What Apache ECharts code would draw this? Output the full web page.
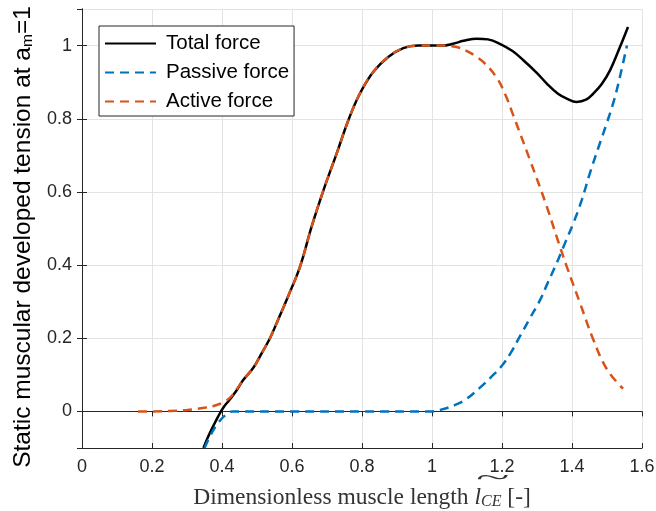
<!DOCTYPE html>
<html>
<head>
<meta charset="utf-8">
<script src="https://cdn.jsdelivr.net/npm/echarts@6/dist/echarts.min.js"></script>
<style>
  html, body { margin: 0; padding: 0; background: #fff; }
  #chart { width: 656px; height: 511px; }
</style>
</head>
<body>
<div id="chart"></div>
<script>
// Values: [length, tension]
const totalForce = [
  [0.347, -0.1], [0.36, -0.07], [0.375, -0.04], [0.39, -0.012], [0.405, 0.012],
  [0.42, 0.03], [0.44, 0.055], [0.46, 0.085], [0.49, 0.12], [0.514, 0.16], [0.537, 0.2],
  [0.56, 0.25], [0.589, 0.315], [0.623, 0.396], [0.656, 0.505], [0.69, 0.605],
  [0.728, 0.706], [0.761, 0.796], [0.794, 0.869], [0.832, 0.928], [0.875, 0.969],
  [0.918, 0.993], [0.96, 1.0], [1.0, 1.0], [1.03, 1.0], [1.06, 1.005],
  [1.09, 1.013], [1.128, 1.019], [1.16, 1.017], [1.194, 1.005], [1.23, 0.985],
  [1.261, 0.96], [1.3, 0.925], [1.328, 0.896], [1.36, 0.868], [1.385, 0.855],
  [1.413, 0.846], [1.44, 0.852], [1.461, 0.869], [1.485, 0.895], [1.509, 0.933],
  [1.537, 0.996], [1.56, 1.051]
]
const passiveForce = [
  [0.35, -0.1], [0.37, -0.06], [0.39, -0.03], [0.41, -0.01], [0.43, 0],
  [0.6, 0], [0.8, 0], [1.0, 0], [1.023, 0.004], [1.07, 0.019], [1.1, 0.035],
  [1.137, 0.065], [1.17, 0.095], [1.199, 0.124], [1.225, 0.16], [1.251, 0.205],
  [1.28, 0.255], [1.309, 0.305], [1.33, 0.35], [1.356, 0.405], [1.38, 0.46],
  [1.404, 0.515], [1.428, 0.578], [1.451, 0.651], [1.475, 0.72], [1.499, 0.787],
  [1.52, 0.85], [1.537, 0.915], [1.557, 1.0]
]
const activeForce = [
  [0.16, 0], [0.2, 0], [0.25, 0.001], [0.3, 0.004], [0.35, 0.01], [0.38, 0.016],
  [0.41, 0.028], [0.43, 0.045], [0.46, 0.085], [0.49, 0.12], [0.514, 0.16],
  [0.537, 0.2], [0.56, 0.25], [0.589, 0.315], [0.623, 0.396], [0.656, 0.505],
  [0.69, 0.605], [0.728, 0.706], [0.761, 0.796], [0.794, 0.869], [0.832, 0.928],
  [0.875, 0.969], [0.918, 0.993], [0.96, 1.0], [1.0, 1.0], [1.03, 1.0],
  [1.07, 0.996], [1.1, 0.985], [1.128, 0.969], [1.15, 0.952], [1.185, 0.912],
  [1.21, 0.865], [1.232, 0.81], [1.28, 0.687], [1.328, 0.56], [1.356, 0.478],
  [1.385, 0.396], [1.423, 0.296], [1.461, 0.196], [1.5, 0.115], [1.546, 0.062]
]

const seriesNames = ['Total force', 'Passive force', 'Active force']

// MATLAB-ish colours
const COLOR_TOTAL = '#000000'
const COLOR_PASSIVE = '#0072BD'
const COLOR_ACTIVE = '#D95319'
const AXIS_COLOR = '#262626'
const GRID_COLOR = '#e3e3e3'
const SANS = 'Liberation Sans, Arial, sans-serif'
const SERIF = 'Liberation Serif, DejaVu Serif, serif'

const chart = echarts.init(document.getElementById('chart'))

const boxAxis = {
  axisLine: { show: true, lineStyle: { color: AXIS_COLOR, width: 1 } },
  axisTick: { show: true, inside: true, length: 5, lineStyle: { color: AXIS_COLOR } },
  axisLabel: { show: false },
  splitLine: { show: false }
}

chart.setOption({
  animation: false,
  grid: { left: 82, right: 14, top: 9, bottom: 63, outerBoundsMode: 'none' },
  legend: {
    data: seriesNames,
    orient: 'vertical',
    left: 99,
    top: 26,
    itemWidth: 51,
    itemHeight: 14,
    itemGap: 8,
    padding: [7, 5, 4, 5],
    backgroundColor: '#fff',
    borderColor: AXIS_COLOR,
    borderWidth: 1,
    itemStyle: { opacity: 0, borderWidth: 0 },
    textStyle: { fontFamily: SANS, fontSize: 20.5, color: '#000', lineHeight: 20, padding: [0, 0, 0, 5] }
  },
  xAxis: [
    {
      type: 'value',
      min: 0,
      max: 1.6,
      interval: 0.2,
      name: 'Dimensionless muscle length {l|l}{ce|CE} [-]',
      nameLocation: 'middle',
      nameGap: 37,
      nameTextStyle: {
        fontFamily: SERIF, fontSize: 23.5, color: '#333',
        rich: {
          l: { fontFamily: SERIF, fontSize: 23.5, fontStyle: 'italic', color: '#333' },
          ce: { fontFamily: SERIF, fontSize: 16, fontStyle: 'italic', color: '#333', padding: [9, 0, 0, 0] }
        }
      },
      axisLine: { show: true, onZero: false, lineStyle: { color: AXIS_COLOR } },
      axisTick: { show: true, inside: true, length: 5, lineStyle: { color: AXIS_COLOR } },
      axisLabel: { fontFamily: SANS, fontSize: 18, color: AXIS_COLOR, margin: 10 },
      splitLine: { show: true, lineStyle: { color: GRID_COLOR, width: 1 } }
    },
    Object.assign({ type: 'value', min: 0, max: 1.6, interval: 0.2, position: 'top' }, boxAxis)
  ],
  yAxis: [
    {
      type: 'value',
      min: -0.1,
      max: 1.1,
      splitNumber: 6,
      name: 'Static muscular developed tension at a{s|m}=1',
      nameLocation: 'middle',
      nameGap: 31,
      nameTextStyle: {
        fontFamily: SANS, fontSize: 24.5, color: '#000',
        padding: [0, 17, 0, 0],
        rich: { s: { fontFamily: SANS, fontSize: 15.5, color: '#000', padding: [10, 0, 0, 0] } }
      },
      axisLine: { show: true, onZero: false, lineStyle: { color: AXIS_COLOR } },
      axisTick: { show: true, inside: true, length: 5, lineStyle: { color: AXIS_COLOR } },
      axisLabel: { fontFamily: SANS, fontSize: 18, color: AXIS_COLOR, margin: 10, showMinLabel: false, showMaxLabel: false },
      splitLine: { show: true, lineStyle: { color: GRID_COLOR, width: 1 } }
    },
    Object.assign({ type: 'value', min: -0.1, max: 1.1, splitNumber: 6, position: 'right' }, boxAxis)
  ],
  graphic: [
    {
      // wide tilde over l_CE
      type: 'text',
      left: 476,
      top: 469,
      scaleX: 3.1,
      style: { text: '~', font: '20px ' + SERIF, fill: '#333' }
    }
  ],
  series: [
    {
      name: seriesNames[0],
      type: 'line',
      data: totalForce,
      symbol: 'none',
      smooth: 0.4,
      lineStyle: { color: COLOR_TOTAL, width: 2.5 },
      itemStyle: { color: COLOR_TOTAL },
      z: 2
    },
    {
      name: seriesNames[1],
      type: 'line',
      data: passiveForce,
      symbol: 'none',
      smooth: 0.4,
      lineStyle: { color: COLOR_PASSIVE, width: 2.5, type: [9, 6] },
      itemStyle: { color: COLOR_PASSIVE },
      z: 3
    },
    {
      name: seriesNames[2],
      type: 'line',
      data: activeForce,
      symbol: 'none',
      smooth: 0.4,
      lineStyle: { color: COLOR_ACTIVE, width: 2.5, type: [9, 6] },
      itemStyle: { color: COLOR_ACTIVE },
      z: 4
    }
  ]
})
</script>
</body>
</html>
